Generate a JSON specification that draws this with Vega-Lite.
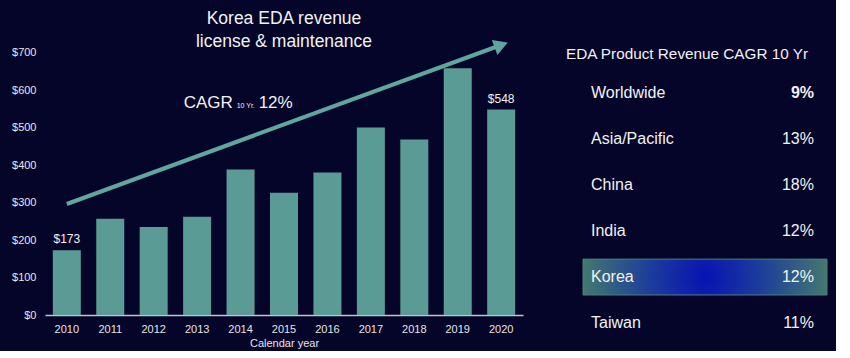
{
  "$schema": "https://vega.github.io/schema/vega-lite/v6.json",
  "background": "#05052a",
  "padding": {"left": 11, "top": 10, "right": 5, "bottom": 3},
  "config": {"view": {"stroke": null}, "font": "Liberation Sans"},
  "datasets": {
    "revenue": [
      {"year": "2010", "revenue": 173},
      {"year": "2011", "revenue": 257},
      {"year": "2012", "revenue": 235},
      {"year": "2013", "revenue": 262},
      {"year": "2014", "revenue": 388},
      {"year": "2015", "revenue": 326},
      {"year": "2016", "revenue": 380},
      {"year": "2017", "revenue": 500},
      {"year": "2018", "revenue": 468},
      {"year": "2019", "revenue": 658},
      {"year": "2020", "revenue": 548}
    ],
    "trend": [
      {"year": "2010", "value": 296},
      {"year": "2020", "value": 720}
    ],
    "cagr": [
      {"region": "Worldwide", "cagr": "9%"},
      {"region": "Asia/Pacific", "cagr": "13%"},
      {"region": "China", "cagr": "18%"},
      {"region": "India", "cagr": "12%"},
      {"region": "Korea", "cagr": "12%"},
      {"region": "Taiwan", "cagr": "11%"}
    ]
  },
  "spacing": 43,
  "hconcat": [
    {
      "width": 478,
      "height": 300,
      "title": {
        "text": "Korea EDA revenue",
        "subtitle": "license & maintenance",
        "anchor": "middle",
        "frame": "group",
        "fontSize": 17.5,
        "subtitleFontSize": 17.5,
        "color": "#f2f2f2",
        "subtitleColor": "#f2f2f2",
        "fontWeight": "normal",
        "subtitlePadding": 5,
        "offset": -35
      },
      "layer": [
        {
          "data": {"name": "revenue"},
          "mark": {"type": "bar", "color": "#5b9b95"},
          "encoding": {
            "x": {
              "field": "year",
              "type": "ordinal",
              "scale": {"paddingInner": 0.355, "paddingOuter": 0.18},
              "axis": {
                "labelAngle": 0,
                "ticks": false,
                "grid": false,
                "domainColor": "#c4c4c4",
                "domainWidth": 1.5,
                "labelColor": "#e6e6e6",
                "labelFontSize": 11,
                "labelPadding": 8,
                "title": "Calendar year",
                "titleColor": "#e6e6e6",
                "titleFontSize": 11,
                "titleFontWeight": "normal",
                "titlePadding": 3
              }
            },
            "y": {
              "field": "revenue",
              "type": "quantitative",
              "scale": {"domain": [0, 800], "nice": false},
              "axis": {
                "values": [0, 100, 200, 300, 400, 500, 600, 700],
                "format": "$d",
                "domain": false,
                "ticks": false,
                "grid": false,
                "labelColor": "#e6e6e6",
                "labelFontSize": 11,
                "labelPadding": 9,
                "title": null
              }
            }
          }
        },
        {
          "data": {"name": "revenue"},
          "transform": [{"filter": "datum.year == '2010' || datum.year == '2020'"}],
          "mark": {"type": "text", "dy": -4, "baseline": "bottom", "fontSize": 12, "color": "#f2f2f2"},
          "encoding": {
            "x": {"field": "year", "type": "ordinal"},
            "y": {"field": "revenue", "type": "quantitative"},
            "text": {"field": "revenue", "format": "$d"}
          }
        },
        {
          "data": {"name": "trend"},
          "mark": {"type": "line", "color": "#5fa69e", "strokeWidth": 4},
          "encoding": {
            "x": {"field": "year", "type": "ordinal"},
            "y": {"field": "value", "type": "quantitative"}
          }
        },
        {
          "data": {"name": "trend"},
          "transform": [{"filter": "datum.year == '2020'"}],
          "mark": {"type": "point", "shape": "triangle-right", "filled": true, "size": 260, "angle": 339.6, "color": "#5fa69e", "opacity": 1},
          "encoding": {
            "x": {"field": "year", "type": "ordinal"},
            "y": {"field": "value", "type": "quantitative"}
          }
        },
        {
          "data": {"values": [{}]},
          "mark": {"type": "text", "text": "CAGR", "align": "left", "baseline": "middle", "dx": -13.5, "dy": 1, "fontSize": 17, "color": "#f2f2f2"},
          "encoding": {
            "x": {"datum": "2013", "type": "ordinal"},
            "y": {"datum": 568, "type": "quantitative"}
          }
        },
        {
          "data": {"values": [{}]},
          "mark": {"type": "text", "text": "10 Yr.", "align": "left", "baseline": "middle", "dx": 39.5, "dy": 4, "fontSize": 7, "color": "#f2f2f2"},
          "encoding": {
            "x": {"datum": "2013", "type": "ordinal"},
            "y": {"datum": 568, "type": "quantitative"}
          }
        },
        {
          "data": {"values": [{}]},
          "mark": {"type": "text", "text": "12%", "align": "left", "baseline": "middle", "dx": 61.5, "dy": 1, "fontSize": 17, "color": "#f2f2f2"},
          "encoding": {
            "x": {"datum": "2013", "type": "ordinal"},
            "y": {"datum": 568, "type": "quantitative"}
          }
        }
      ]
    },
    {
      "width": 265,
      "height": 326,
      "title": {
        "text": "EDA Product Revenue CAGR 10 Yr",
        "anchor": "start",
        "frame": "group",
        "fontSize": 15.3,
        "color": "#f2f2f2",
        "fontWeight": "normal",
        "offset": -47
      },
      "data": {"name": "cagr"},
      "encoding": {
        "y": {
          "field": "region",
          "type": "nominal",
          "sort": null,
          "scale": {
            "domain": ["Worldwide", "Asia/Pacific", "China", "India", "Korea", "Taiwan"],
            "paddingInner": 0.22,
            "paddingOuter": 0.6535,
            "align": 1
          },
          "axis": null
        }
      },
      "layer": [
        {
          "transform": [{"filter": "datum.region == 'Korea'"}],
          "mark": {
            "type": "rect",
            "stroke": "#4d7f78",
            "strokeWidth": 1,
            "fill": {
              "gradient": "radial",
              "x1": 0.5, "y1": 0.5, "r1": 0,
              "x2": 0.5, "y2": 0.5, "r2": 0.5,
              "stops": [
                {"offset": 0, "color": "#0612b2"},
                {"offset": 0.45, "color": "#1c3c9c"},
                {"offset": 1, "color": "#43786f"}
              ]
            }
          },
          "encoding": {
            "x": {"datum": 17, "type": "quantitative", "scale": {"domain": [0, 265], "nice": false, "zero": false}, "axis": null},
            "x2": {"datum": 261}
          }
        },
        {
          "mark": {"type": "text", "align": "left", "fontSize": 16, "color": "#f2f2f2"},
          "encoding": {
            "x": {"datum": 25, "type": "quantitative"},
            "text": {"field": "region"}
          }
        },
        {
          "transform": [{"filter": "datum.region != 'Worldwide'"}],
          "mark": {"type": "text", "align": "right", "fontSize": 16, "color": "#f2f2f2"},
          "encoding": {
            "x": {"datum": 248, "type": "quantitative"},
            "text": {"field": "cagr"}
          }
        },
        {
          "transform": [{"filter": "datum.region == 'Worldwide'"}],
          "mark": {"type": "text", "align": "right", "fontSize": 16, "fontWeight": "bold", "color": "#f2f2f2"},
          "encoding": {
            "x": {"datum": 248, "type": "quantitative"},
            "text": {"field": "cagr"}
          }
        }
      ]
    }
  ]
}
